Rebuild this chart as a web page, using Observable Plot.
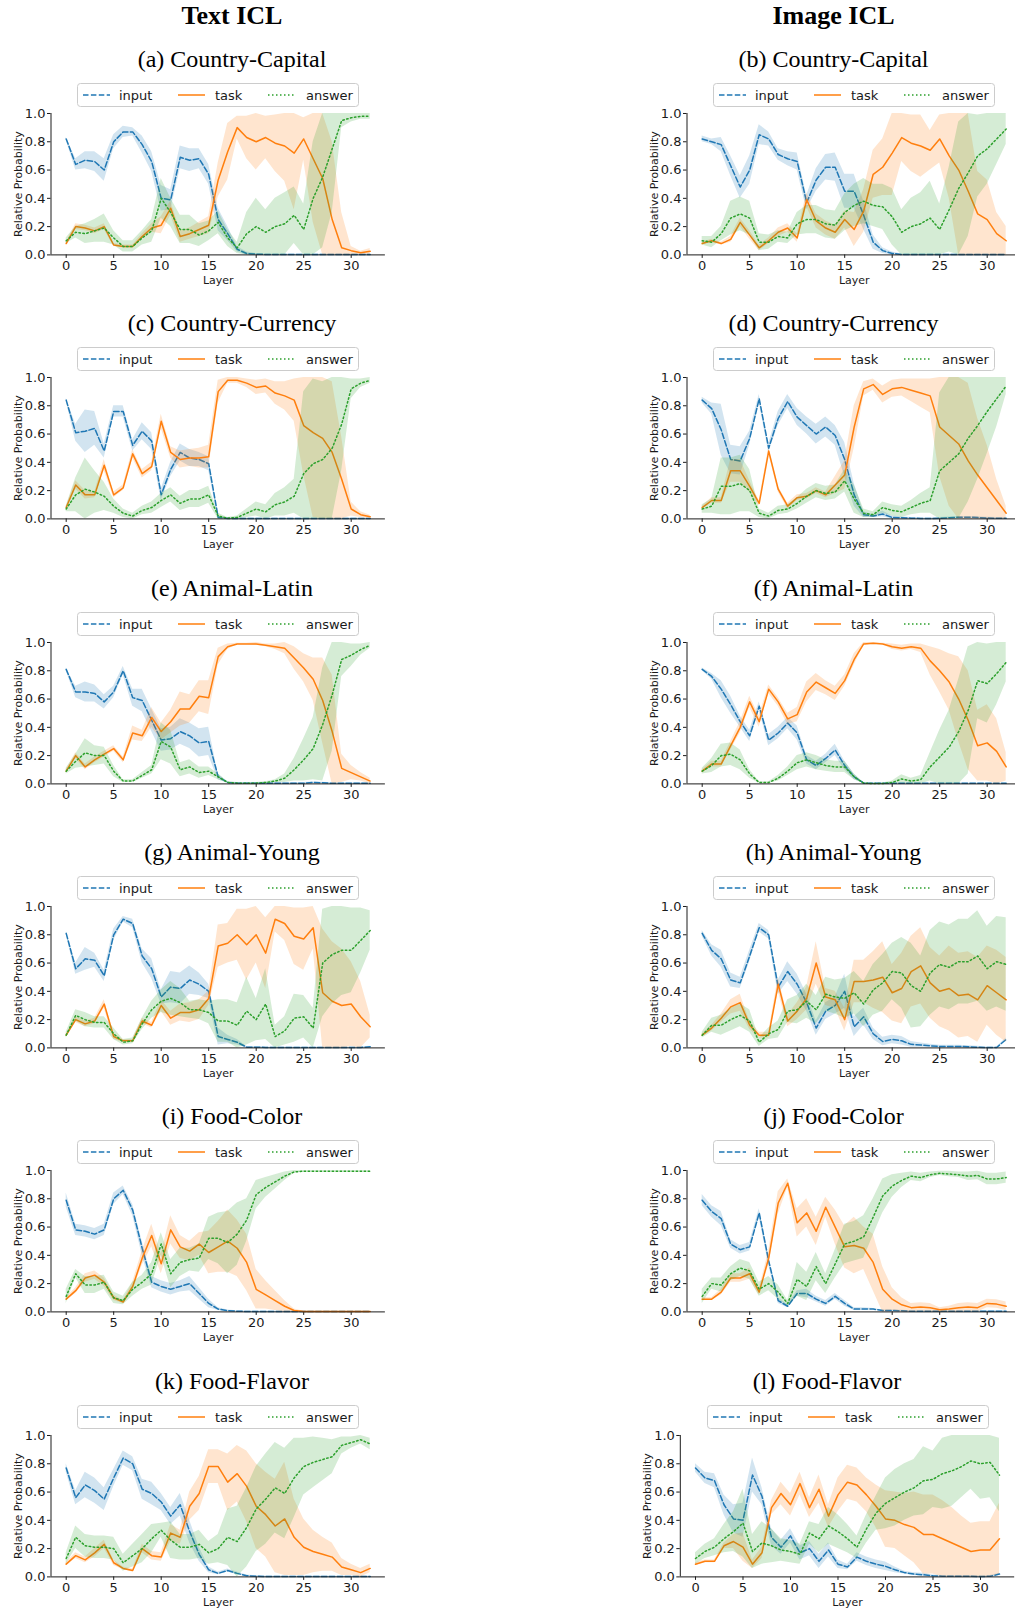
<!DOCTYPE html>
<html><head><meta charset="utf-8">
<script src="https://cdn.jsdelivr.net/npm/d3@7"></script>
<script src="https://cdn.jsdelivr.net/npm/@observablehq/plot@0.6"></script>
<style>
body{margin:0;background:#fff;}
#root{position:relative;width:1015px;height:1608px;overflow:hidden;background:#fff;}
.abs{position:absolute;}
.coltitle{position:absolute;font-family:"Liberation Serif","Times New Roman",serif;font-weight:bold;font-size:26px;transform:translate(-50%,-50%);white-space:nowrap;color:#000;}
.ptitle{position:absolute;font-family:"Liberation Serif","Times New Roman",serif;font-size:24px;transform:translate(-50%,-50%);white-space:nowrap;color:#000;}
</style></head><body><div id="root"></div>
<script>
const layers = [0,1,2,3,4,5,6,7,8,9,10,11,12,13,14,15,16,17,18,19,20,21,22,23,24,25,26,27,28,29,30,31,32];
const xTicks = [0,5,10,15,20,25,30];
const yTicks = [0,0.2,0.4,0.6,0.8,1.0];
const seriesNames = ["input","task","answer"];
const columnTitles = ["Text ICL","Image ICL"];
const panelTitles = ["(a) Country-Capital","(b) Country-Capital","(c) Country-Currency","(d) Country-Currency","(e) Animal-Latin","(f) Animal-Latin","(g) Animal-Young","(h) Animal-Young","(i) Food-Color","(j) Food-Color","(k) Food-Flavor","(l) Food-Flavor"];

// (a) Text Country-Capital
const a_in = [0.82,0.64,0.67,0.66,0.60,0.80,0.87,0.87,0.78,0.66,0.40,
  0.39,0.69,0.67,0.68,0.57,0.25,0.15,0.04,0.01,0.005,0.003,
  0.003,0.003,0.003,0.003,0.003,0.003,0.003,0.003,0.003,0.003,0.003];
const a_in_sd = [0.01,0.04,0.06,0.07,0.08,0.05,0.04,0.03,0.06,0.07,0.09,
  0.07,0.08,0.08,0.07,0.07,0.08,0.05,0.02,0.01,0.004,0.003,
  0.003,0.003,0.003,0.003,0.003,0.003,0.003,0.003,0.003,0.003,0.003];
const a_task = [0.08,0.20,0.19,0.17,0.20,0.07,0.06,0.06,0.13,0.19,0.21,
  0.33,0.13,0.15,0.18,0.21,0.53,0.73,0.90,0.83,0.80,0.83,
  0.79,0.77,0.72,0.82,0.68,0.54,0.25,0.05,0.03,0.015,0.025];
const a_task_sd = [0.01,0.02,0.02,0.02,0.02,0.01,0.01,0.01,0.02,0.03,0.06,
  0.05,0.04,0.04,0.05,0.06,0.12,0.20,0.08,0.15,0.20,0.15,
  0.20,0.25,0.40,0.15,0.45,0.55,0.55,0.25,0.03,0.01,0.02];
const a_ans = [0.10,0.16,0.15,0.17,0.19,0.12,0.06,0.06,0.12,0.17,0.40,
  0.30,0.18,0.18,0.14,0.17,0.23,0.12,0.05,0.15,0.20,0.16,
  0.20,0.22,0.28,0.18,0.40,0.55,0.75,0.95,0.97,0.98,0.98];
const a_ans_sd = [0.02,0.04,0.07,0.08,0.10,0.05,0.04,0.04,0.05,0.08,0.14,
  0.10,0.10,0.10,0.08,0.07,0.08,0.06,0.04,0.15,0.20,0.16,
  0.20,0.22,0.20,0.18,0.40,0.50,0.45,0.05,0.03,0.02,0.02];

// (b) Image Country-Capital
const b_in = [0.82,0.80,0.78,0.63,0.48,0.60,0.85,0.82,0.71,0.68,0.66,
  0.37,0.53,0.62,0.62,0.45,0.45,0.28,0.09,0.03,0.01,0.003,
  0.003,0.003,0.003,0.003,0.003,0.003,0.003,0.003,0.003,0.003,0.003];
const b_in_sd = [0.02,0.02,0.05,0.07,0.08,0.10,0.07,0.05,0.04,0.05,0.06,
  0.05,0.08,0.09,0.10,0.12,0.12,0.10,0.05,0.02,0.01,0.003,
  0.003,0.003,0.003,0.003,0.003,0.003,0.003,0.003,0.003,0.003,0.003];
const b_task = [0.08,0.10,0.08,0.11,0.23,0.14,0.05,0.10,0.16,0.19,0.12,
  0.39,0.24,0.19,0.16,0.25,0.18,0.31,0.57,0.62,0.72,0.83,
  0.79,0.77,0.74,0.82,0.70,0.60,0.45,0.29,0.25,0.15,0.10];
const b_task_sd = [0.01,0.01,0.01,0.02,0.03,0.03,0.02,0.02,0.03,0.03,0.03,
  0.05,0.05,0.05,0.05,0.06,0.12,0.15,0.17,0.20,0.30,0.17,
  0.20,0.22,0.14,0.17,0.30,0.60,0.60,0.30,0.28,0.15,0.10];
const b_ans = [0.10,0.09,0.15,0.26,0.29,0.26,0.09,0.09,0.13,0.12,0.22,
  0.25,0.25,0.22,0.21,0.30,0.35,0.38,0.35,0.34,0.27,0.16,
  0.20,0.22,0.26,0.18,0.32,0.47,0.58,0.70,0.75,0.82,0.89];
const b_ans_sd = [0.03,0.04,0.05,0.12,0.12,0.12,0.06,0.05,0.04,0.04,0.08,
  0.10,0.10,0.10,0.10,0.13,0.15,0.16,0.15,0.16,0.20,0.16,
  0.20,0.22,0.26,0.18,0.30,0.47,0.45,0.29,0.25,0.18,0.11];

// (c) Text Country-Currency
const c_in = [0.84,0.61,0.62,0.64,0.48,0.76,0.76,0.52,0.62,0.55,0.17,
  0.35,0.47,0.43,0.42,0.39,0.01,0.003,0.003,0.003,0.003,0.003,
  0.003,0.003,0.003,0.003,0.003,0.003,0.003,0.003,0.003,0.003,0.003];
const c_in_sd = [0.01,0.06,0.15,0.12,0.05,0.04,0.04,0.04,0.06,0.06,0.04,
  0.05,0.06,0.06,0.05,0.05,0.01,0.003,0.003,0.003,0.003,0.003,
  0.003,0.003,0.003,0.003,0.003,0.003,0.003,0.003,0.003,0.003,0.003];
const c_task = [0.08,0.24,0.17,0.17,0.38,0.17,0.22,0.46,0.32,0.37,0.69,
  0.47,0.42,0.43,0.43,0.44,0.90,0.98,0.98,0.96,0.93,0.94,
  0.89,0.87,0.84,0.66,0.61,0.57,0.47,0.28,0.07,0.03,0.015];
const c_task_sd = [0.01,0.03,0.03,0.02,0.04,0.02,0.02,0.03,0.03,0.03,0.05,
  0.04,0.06,0.06,0.07,0.08,0.08,0.02,0.02,0.03,0.05,0.05,
  0.08,0.10,0.15,0.35,0.60,0.60,0.50,0.30,0.05,0.02,0.01];
const c_ans = [0.07,0.17,0.21,0.19,0.16,0.09,0.04,0.02,0.06,0.08,0.13,
  0.17,0.11,0.14,0.14,0.17,0.02,0.005,0.01,0.04,0.07,0.05,
  0.10,0.12,0.16,0.32,0.39,0.42,0.50,0.67,0.92,0.96,0.98];
const c_ans_sd = [0.02,0.12,0.22,0.15,0.10,0.05,0.03,0.02,0.03,0.04,0.05,
  0.05,0.05,0.06,0.06,0.06,0.02,0.005,0.01,0.03,0.05,0.05,
  0.08,0.10,0.12,0.58,0.60,0.55,0.50,0.33,0.07,0.03,0.02];

// (d) Image Country-Currency
const d_in = [0.84,0.78,0.63,0.42,0.41,0.57,0.85,0.50,0.71,0.83,0.72,
  0.66,0.60,0.65,0.59,0.42,0.17,0.03,0.02,0.035,0.01,0.008,
  0.005,0.003,0.003,0.005,0.008,0.012,0.012,0.01,0.006,0.004,0.004];
const d_in_sd = [0.02,0.04,0.18,0.10,0.10,0.05,0.03,0.03,0.05,0.05,0.06,
  0.06,0.07,0.07,0.07,0.12,0.08,0.02,0.01,0.02,0.01,0.005,
  0.005,0.005,0.005,0.005,0.005,0.005,0.005,0.005,0.005,0.005,0.005];
const d_task = [0.08,0.13,0.13,0.34,0.34,0.23,0.11,0.48,0.21,0.09,0.15,
  0.16,0.20,0.17,0.24,0.31,0.65,0.92,0.95,0.88,0.92,0.93,
  0.91,0.89,0.87,0.65,0.59,0.53,0.41,0.31,0.22,0.13,0.04];
const d_task_sd = [0.01,0.02,0.02,0.08,0.08,0.04,0.02,0.02,0.02,0.02,0.02,
  0.02,0.02,0.02,0.06,0.10,0.15,0.05,0.04,0.06,0.06,0.06,
  0.08,0.10,0.12,0.35,0.50,0.55,0.55,0.40,0.30,0.15,0.05];
const d_ans = [0.07,0.09,0.23,0.23,0.25,0.20,0.04,0.02,0.06,0.07,0.11,
  0.16,0.20,0.18,0.19,0.27,0.14,0.04,0.03,0.08,0.06,0.05,
  0.08,0.11,0.13,0.34,0.40,0.46,0.57,0.66,0.76,0.85,0.94];
const d_ans_sd = [0.03,0.05,0.20,0.20,0.20,0.15,0.03,0.02,0.03,0.03,0.04,
  0.05,0.05,0.05,0.05,0.08,0.10,0.03,0.02,0.04,0.04,0.04,
  0.05,0.07,0.09,0.55,0.60,0.55,0.45,0.38,0.30,0.20,0.06];

// (e) Text Animal-Latin
const e_in = [0.81,0.65,0.65,0.64,0.58,0.65,0.80,0.61,0.59,0.45,0.31,
  0.32,0.37,0.34,0.29,0.30,0.05,0.01,0.005,0.005,0.005,0.005,
  0.005,0.005,0.005,0.005,0.01,0.008,0.004,0.004,0.004,0.004,0.004];
const e_in_sd = [0.01,0.04,0.07,0.06,0.05,0.04,0.03,0.06,0.08,0.08,0.08,
  0.08,0.09,0.09,0.10,0.10,0.02,0.005,0.004,0.004,0.004,0.004,
  0.004,0.004,0.004,0.004,0.004,0.004,0.004,0.004,0.004,0.004,0.004];
const e_task = [0.09,0.20,0.12,0.17,0.21,0.25,0.17,0.36,0.34,0.47,0.37,
  0.44,0.53,0.53,0.62,0.61,0.90,0.97,0.99,0.99,0.99,0.98,
  0.97,0.96,0.89,0.82,0.74,0.59,0.37,0.11,0.08,0.05,0.02];
const e_task_sd = [0.01,0.02,0.02,0.02,0.02,0.02,0.02,0.05,0.04,0.07,0.06,
  0.08,0.12,0.10,0.11,0.12,0.06,0.02,0.005,0.005,0.01,0.01,
  0.02,0.04,0.08,0.10,0.15,0.30,0.40,0.10,0.05,0.03,0.02];
const e_ans = [0.09,0.16,0.22,0.20,0.20,0.09,0.02,0.02,0.06,0.10,0.30,
  0.26,0.10,0.12,0.08,0.09,0.05,0.01,0.005,0.005,0.005,0.01,
  0.02,0.04,0.10,0.17,0.25,0.42,0.63,0.88,0.91,0.95,0.98];
const e_ans_sd = [0.02,0.05,0.10,0.07,0.06,0.04,0.01,0.01,0.02,0.03,0.13,
  0.12,0.05,0.05,0.04,0.03,0.02,0.005,0.003,0.003,0.004,0.006,
  0.01,0.03,0.08,0.15,0.22,0.40,0.40,0.12,0.08,0.04,0.02];

// (f) Image Animal-Latin
const f_in = [0.81,0.76,0.67,0.56,0.44,0.34,0.55,0.31,0.36,0.43,0.36,
  0.17,0.13,0.18,0.24,0.13,0.05,0.005,0.004,0.004,0.004,0.004,
  0.004,0.004,0.004,0.004,0.004,0.004,0.004,0.004,0.004,0.004,0.004];
const f_in_sd = [0.01,0.02,0.06,0.06,0.04,0.04,0.03,0.04,0.04,0.04,0.05,
  0.03,0.03,0.03,0.04,0.03,0.02,0.003,0.003,0.003,0.003,0.003,
  0.003,0.003,0.003,0.003,0.003,0.003,0.003,0.003,0.003,0.003,0.003];
const f_task = [0.09,0.14,0.14,0.27,0.40,0.58,0.44,0.67,0.58,0.46,0.49,
  0.65,0.72,0.68,0.64,0.73,0.88,0.99,0.995,0.99,0.97,0.96,
  0.97,0.96,0.87,0.80,0.72,0.60,0.45,0.27,0.29,0.23,0.12];
const f_task_sd = [0.01,0.02,0.02,0.03,0.04,0.04,0.04,0.03,0.03,0.04,0.05,
  0.07,0.06,0.05,0.05,0.04,0.04,0.01,0.005,0.005,0.02,0.02,
  0.02,0.03,0.10,0.15,0.20,0.30,0.35,0.25,0.27,0.23,0.10];
const f_ans = [0.09,0.13,0.20,0.21,0.17,0.07,0.01,0.01,0.04,0.09,0.15,
  0.17,0.15,0.13,0.12,0.12,0.05,0.005,0.002,0.003,0.01,0.035,
  0.02,0.03,0.12,0.19,0.26,0.37,0.52,0.73,0.71,0.78,0.86];
const f_ans_sd = [0.02,0.05,0.08,0.08,0.07,0.03,0.005,0.005,0.02,0.03,0.05,
  0.05,0.05,0.04,0.04,0.04,0.02,0.003,0.002,0.003,0.01,0.03,
  0.02,0.03,0.10,0.19,0.26,0.37,0.45,0.27,0.28,0.22,0.14];

// (g) Text Animal-Young
const g_in = [0.81,0.56,0.63,0.62,0.51,0.80,0.91,0.88,0.65,0.56,0.36,
  0.43,0.42,0.48,0.45,0.40,0.08,0.06,0.04,0.005,0.005,0.003,
  0.003,0.003,0.003,0.003,0.003,0.003,0.003,0.003,0.003,0.003,0.008];
const g_in_sd = [0.01,0.04,0.08,0.05,0.04,0.04,0.02,0.03,0.05,0.07,0.05,
  0.11,0.11,0.10,0.08,0.05,0.06,0.03,0.02,0.005,0.004,0.003,
  0.003,0.003,0.003,0.003,0.003,0.003,0.003,0.003,0.003,0.003,0.003];
const g_task = [0.09,0.20,0.17,0.19,0.31,0.08,0.05,0.05,0.19,0.16,0.30,
  0.21,0.25,0.25,0.27,0.35,0.72,0.74,0.80,0.73,0.80,0.67,
  0.91,0.88,0.79,0.77,0.85,0.39,0.33,0.30,0.31,0.22,0.15];
const g_task_sd = [0.01,0.02,0.02,0.02,0.03,0.02,0.01,0.01,0.02,0.02,0.04,
  0.05,0.06,0.07,0.07,0.05,0.15,0.14,0.18,0.25,0.20,0.25,
  0.09,0.12,0.20,0.22,0.15,0.45,0.42,0.40,0.30,0.25,0.08];
const g_ans = [0.09,0.23,0.20,0.18,0.18,0.10,0.04,0.05,0.17,0.27,0.33,
  0.35,0.32,0.27,0.27,0.25,0.19,0.19,0.16,0.26,0.20,0.31,
  0.08,0.12,0.21,0.22,0.14,0.60,0.66,0.69,0.69,0.76,0.83];
const g_ans_sd = [0.02,0.04,0.05,0.04,0.04,0.04,0.02,0.02,0.04,0.06,0.08,
  0.12,0.10,0.06,0.07,0.08,0.15,0.15,0.16,0.24,0.15,0.25,
  0.08,0.10,0.17,0.15,0.14,0.38,0.35,0.32,0.30,0.23,0.14];

// (h) Image Animal-Young
const h_in = [0.81,0.69,0.63,0.48,0.46,0.65,0.85,0.80,0.43,0.54,0.45,
  0.32,0.14,0.26,0.30,0.40,0.15,0.22,0.10,0.045,0.06,0.05,
  0.025,0.02,0.015,0.01,0.01,0.01,0.008,0.005,0.003,0.003,0.06];
const h_in_sd = [0.02,0.04,0.06,0.05,0.04,0.04,0.03,0.03,0.05,0.07,0.07,
  0.06,0.05,0.06,0.06,0.12,0.07,0.06,0.04,0.03,0.03,0.03,
  0.02,0.015,0.01,0.008,0.008,0.008,0.008,0.006,0.004,0.004,0.01];
const h_task = [0.09,0.14,0.21,0.29,0.32,0.16,0.09,0.09,0.45,0.19,0.26,
  0.35,0.60,0.36,0.34,0.20,0.47,0.47,0.48,0.50,0.39,0.42,
  0.54,0.58,0.46,0.40,0.42,0.37,0.38,0.34,0.44,0.39,0.34];
const h_task_sd = [0.01,0.02,0.03,0.05,0.06,0.03,0.02,0.02,0.05,0.04,0.06,
  0.08,0.15,0.06,0.06,0.08,0.15,0.15,0.20,0.25,0.20,0.25,
  0.25,0.27,0.25,0.25,0.30,0.30,0.30,0.30,0.28,0.30,0.30];
const h_ans = [0.09,0.16,0.16,0.20,0.23,0.19,0.04,0.10,0.13,0.26,0.27,
  0.33,0.27,0.38,0.36,0.35,0.39,0.31,0.41,0.46,0.54,0.53,
  0.44,0.40,0.53,0.59,0.57,0.61,0.61,0.65,0.56,0.61,0.59];
const h_ans_sd = [0.02,0.05,0.07,0.08,0.08,0.08,0.03,0.04,0.06,0.08,0.10,
  0.12,0.10,0.12,0.12,0.14,0.15,0.16,0.18,0.20,0.20,0.25,
  0.30,0.25,0.30,0.30,0.30,0.30,0.30,0.32,0.30,0.32,0.33];

// (i) Text Food-Color
const i_in = [0.79,0.58,0.57,0.55,0.58,0.80,0.86,0.72,0.45,0.21,0.18,
  0.16,0.18,0.20,0.13,0.06,0.02,0.008,0.005,0.003,0.003,0.003,
  0.003,0.003,0.003,0.003,0.003,0.003,0.003,0.003,0.003,0.003,0.003];
const i_in_sd = [0.05,0.04,0.04,0.04,0.04,0.04,0.03,0.04,0.05,0.04,0.04,
  0.04,0.04,0.05,0.04,0.03,0.01,0.005,0.003,0.003,0.003,0.003,
  0.003,0.003,0.003,0.003,0.003,0.003,0.003,0.003,0.003,0.003,0.003];
const i_task = [0.09,0.15,0.24,0.26,0.21,0.10,0.07,0.18,0.38,0.54,0.34,
  0.58,0.46,0.43,0.48,0.42,0.46,0.50,0.45,0.35,0.16,0.12,
  0.08,0.04,0.01,0.003,0.002,0.002,0.002,0.002,0.002,0.002,0.002];
const i_task_sd = [0.01,0.02,0.03,0.03,0.03,0.02,0.01,0.03,0.05,0.08,0.07,
  0.10,0.08,0.07,0.08,0.15,0.18,0.22,0.20,0.20,0.14,0.10,
  0.07,0.04,0.01,0.002,0.002,0.002,0.002,0.002,0.002,0.002,0.002];
const i_ans = [0.11,0.27,0.19,0.19,0.21,0.10,0.08,0.16,0.21,0.27,0.48,
  0.27,0.35,0.37,0.38,0.52,0.52,0.49,0.55,0.65,0.83,0.88,
  0.92,0.96,0.99,0.995,0.995,0.995,0.995,0.995,0.995,0.995,0.995];
const i_ans_sd = [0.05,0.03,0.06,0.06,0.05,0.04,0.03,0.05,0.05,0.08,0.08,
  0.10,0.10,0.08,0.10,0.15,0.18,0.22,0.22,0.15,0.10,0.07,
  0.05,0.03,0.01,0.003,0.003,0.003,0.003,0.003,0.003,0.003,0.003];

// (j) Image Food-Color
const j_in = [0.79,0.71,0.66,0.48,0.44,0.46,0.70,0.36,0.08,0.04,0.13,
  0.13,0.09,0.06,0.11,0.06,0.02,0.02,0.02,0.01,0.01,0.008,
  0.004,0.004,0.004,0.004,0.004,0.004,0.004,0.004,0.004,0.004,0.004];
const j_in_sd = [0.04,0.04,0.05,0.03,0.03,0.03,0.03,0.03,0.02,0.01,0.02,
  0.03,0.02,0.02,0.02,0.02,0.01,0.01,0.004,0.004,0.004,0.004,
  0.004,0.004,0.004,0.004,0.004,0.004,0.004,0.004,0.004,0.004,0.004];
const j_task = [0.09,0.09,0.14,0.24,0.24,0.27,0.14,0.38,0.77,0.91,0.63,
  0.70,0.57,0.74,0.60,0.46,0.47,0.45,0.35,0.16,0.09,0.05,
  0.03,0.035,0.03,0.015,0.02,0.03,0.035,0.03,0.06,0.055,0.04];
const j_task_sd = [0.01,0.01,0.02,0.03,0.03,0.04,0.02,0.05,0.08,0.03,0.10,
  0.10,0.10,0.07,0.12,0.15,0.20,0.15,0.20,0.16,0.08,0.05,
  0.03,0.03,0.03,0.015,0.02,0.03,0.03,0.03,0.03,0.03,0.03];
const j_ans = [0.11,0.20,0.19,0.27,0.31,0.29,0.16,0.20,0.14,0.06,0.23,
  0.18,0.32,0.20,0.34,0.48,0.50,0.53,0.67,0.82,0.89,0.93,
  0.96,0.95,0.97,0.98,0.975,0.97,0.96,0.965,0.94,0.94,0.95];
const j_ans_sd = [0.05,0.04,0.05,0.05,0.06,0.06,0.05,0.05,0.05,0.02,0.12,
  0.10,0.10,0.07,0.10,0.14,0.14,0.15,0.13,0.12,0.08,0.05,
  0.03,0.03,0.02,0.015,0.02,0.02,0.03,0.03,0.04,0.04,0.04];

// (k) Text Food-Flavor
const k_in = [0.77,0.56,0.65,0.61,0.55,0.70,0.84,0.80,0.62,0.59,0.53,
  0.43,0.51,0.32,0.16,0.05,0.025,0.045,0.025,0.008,0.005,0.003,
  0.003,0.003,0.003,0.003,0.003,0.003,0.003,0.003,0.003,0.003,0.003];
const k_in_sd = [0.03,0.05,0.09,0.09,0.08,0.06,0.05,0.05,0.07,0.08,0.06,
  0.06,0.08,0.08,0.05,0.02,0.01,0.01,0.01,0.005,0.003,0.003,
  0.003,0.003,0.003,0.003,0.003,0.003,0.003,0.003,0.003,0.003,0.003];
const k_task = [0.09,0.15,0.12,0.17,0.23,0.10,0.06,0.045,0.20,0.15,0.14,
  0.31,0.28,0.50,0.59,0.78,0.78,0.67,0.73,0.64,0.50,0.44,
  0.36,0.41,0.28,0.21,0.18,0.16,0.14,0.07,0.05,0.03,0.06];
const k_task_sd = [0.01,0.02,0.02,0.03,0.03,0.02,0.01,0.01,0.03,0.03,0.03,
  0.06,0.05,0.10,0.12,0.12,0.12,0.20,0.20,0.25,0.30,0.30,
  0.33,0.40,0.27,0.20,0.15,0.12,0.10,0.06,0.04,0.03,0.03];
const k_ans = [0.13,0.28,0.22,0.21,0.21,0.20,0.10,0.15,0.20,0.27,0.33,
  0.26,0.21,0.21,0.23,0.17,0.20,0.28,0.25,0.35,0.48,0.55,
  0.63,0.59,0.70,0.78,0.81,0.83,0.85,0.93,0.95,0.97,0.94];
const k_ans_sd = [0.04,0.08,0.08,0.08,0.08,0.08,0.06,0.08,0.10,0.10,0.05,
  0.13,0.09,0.09,0.10,0.08,0.10,0.20,0.25,0.28,0.30,0.32,
  0.32,0.32,0.28,0.20,0.18,0.15,0.12,0.06,0.04,0.03,0.04];

// (l) Image Food-Flavor
const l_in = [0.77,0.70,0.68,0.51,0.41,0.40,0.72,0.57,0.28,0.21,0.29,
  0.17,0.20,0.11,0.19,0.09,0.07,0.14,0.11,0.09,0.075,0.05,
  0.03,0.02,0.015,0.008,0.005,0.004,0.004,0.004,0.003,0.004,0.02];
const l_in_sd = [0.03,0.04,0.05,0.07,0.10,0.12,0.12,0.06,0.06,0.05,0.05,
  0.05,0.05,0.05,0.05,0.03,0.02,0.03,0.03,0.03,0.03,0.02,
  0.01,0.01,0.01,0.005,0.005,0.005,0.005,0.005,0.005,0.005,0.005];
const l_task = [0.09,0.11,0.11,0.22,0.25,0.21,0.09,0.17,0.49,0.59,0.51,
  0.66,0.49,0.62,0.43,0.58,0.67,0.65,0.58,0.50,0.41,0.40,
  0.37,0.35,0.30,0.30,0.27,0.24,0.21,0.18,0.19,0.19,0.27];
const l_task_sd = [0.01,0.01,0.01,0.02,0.05,0.10,0.03,0.04,0.05,0.08,0.08,
  0.08,0.07,0.10,0.08,0.12,0.12,0.12,0.12,0.15,0.20,0.20,
  0.22,0.25,0.28,0.28,0.27,0.25,0.22,0.20,0.20,0.20,0.25];
const l_ans = [0.13,0.18,0.21,0.27,0.32,0.38,0.18,0.24,0.22,0.19,0.18,
  0.16,0.31,0.27,0.36,0.32,0.27,0.21,0.34,0.45,0.52,0.56,
  0.60,0.63,0.68,0.69,0.73,0.75,0.78,0.82,0.80,0.81,0.72];
const l_ans_sd = [0.04,0.05,0.06,0.10,0.14,0.24,0.12,0.15,0.12,0.08,0.08,
  0.07,0.08,0.10,0.13,0.12,0.10,0.08,0.10,0.12,0.18,0.20,
  0.20,0.20,0.24,0.20,0.25,0.25,0.22,0.20,0.25,0.25,0.26];

// ---- assembly ----
const panelSeries = [
  [a_in,a_in_sd,a_task,a_task_sd,a_ans,a_ans_sd],
  [b_in,b_in_sd,b_task,b_task_sd,b_ans,b_ans_sd],
  [c_in,c_in_sd,c_task,c_task_sd,c_ans,c_ans_sd],
  [d_in,d_in_sd,d_task,d_task_sd,d_ans,d_ans_sd],
  [e_in,e_in_sd,e_task,e_task_sd,e_ans,e_ans_sd],
  [f_in,f_in_sd,f_task,f_task_sd,f_ans,f_ans_sd],
  [g_in,g_in_sd,g_task,g_task_sd,g_ans,g_ans_sd],
  [h_in,h_in_sd,h_task,h_task_sd,h_ans,h_ans_sd],
  [i_in,i_in_sd,i_task,i_task_sd,i_ans,i_ans_sd],
  [j_in,j_in_sd,j_task,j_task_sd,j_ans,j_ans_sd],
  [k_in,k_in_sd,k_task,k_task_sd,k_ans,k_ans_sd],
  [l_in,l_in_sd,l_task,l_task_sd,l_ans,l_ans_sd]
];

const colors = ["#1f77b4","#ff7f0e","#2ca02c"];
const dashes = ["5.5,2.4", null, "1.5,2.5"];
const TEXT = "#1a1a1a";
const rowTops = [112.7, 377, 641.7, 905.7, 1170.3, 1434.7];
const AX_H = 141.4, AX_W = 334.4, MT = 8, MB = 42;
const X_DOMAIN = [-1.6, 33.6];
// column layouts: [svgLeft, marginLeft, titleCenter]
const colLayout = [[0, 50.5, 232], [625, 61.5, 833.5]];
const lastRightLayout = [625, 54.8, 827];

const root = document.getElementById("root");

columnTitles.forEach((t, c) => {
  const d = document.createElement("div");
  d.className = "coltitle";
  d.style.left = colLayout[c][2] + "px";
  d.style.top = "15.5px";
  d.textContent = t;
  root.appendChild(d);
});

function clip(v) { return Math.max(0, Math.min(1, v)); }

panelSeries.forEach((ser, p) => {
  const col = p % 2, row = Math.floor(p / 2);
  const lay = (p === 11) ? lastRightLayout : colLayout[col];
  const [svgLeft, ml, titleX] = lay;
  const top = rowTops[row];
  const axLeft = svgLeft + ml;
  const axCenter = axLeft + AX_W / 2;

  // title
  const t = document.createElement("div");
  t.className = "ptitle";
  t.style.left = titleX + "px";
  t.style.top = (top - 54) + "px";
  t.textContent = panelTitles[p];
  root.appendChild(t);

  // legend
  const lgW = 281, lgH = 23;
  const lgLeft = axCenter - lgW / 2, lgTop = top - 30;
  const items = [[6, 42], [101, 138], [191, 229]];
  let svg = `<svg class="abs" style="left:${lgLeft}px;top:${lgTop}px;overflow:visible" width="${lgW+1}" height="${lgH+1}">`;
  svg += `<rect x="0.5" y="0.5" width="${lgW}" height="${lgH}" rx="3" fill="#fff" stroke="#cccccc" stroke-width="1"/>`;
  seriesNames.forEach((n, s) => {
    const [lx, tx] = items[s];
    svg += `<line x1="${lx}" x2="${lx+27}" y1="12" y2="12" stroke="${colors[s]}" stroke-width="1.5" ${dashes[s] ? `stroke-dasharray="${dashes[s]}"` : ""}/>`;
    svg += `<text x="${tx}" y="12" dy="0.36em" font-family="DejaVu Sans" font-size="13" fill="${TEXT}">${n}</text>`;
  });
  svg += `</svg>`;
  root.insertAdjacentHTML("beforeend", svg);

  const marks = [
    Plot.axisX({ticks: xTicks, tickSize: 3.5, tickPadding: 2, label: null, fontSize: 13, stroke: TEXT}),
    Plot.axisY({ticks: yTicks, tickFormat: d3.format(".1f"), tickSize: 3.5, tickPadding: 2, label: null, fontSize: 13, stroke: TEXT})
  ];
  for (let s = 0; s < 3; s++) {
    const mean = ser[2*s], sd = ser[2*s+1];
    const lo = mean.map((m, i) => clip(m - sd[i]));
    const hi = mean.map((m, i) => clip(m + sd[i]));
    marks.push(Plot.areaY(layers, {x: layers, y1: lo, y2: hi, fill: colors[s], fillOpacity: 0.2}));
    const lineOpts = {x: layers, y: mean, stroke: colors[s], strokeWidth: 1.5};
    if (dashes[s]) lineOpts.strokeDasharray = dashes[s];
    marks.push(Plot.lineY(layers, lineOpts));
  }
  marks.push(Plot.ruleY([0], {stroke: TEXT, strokeWidth: 1}));
  marks.push(Plot.ruleX([X_DOMAIN[0]], {stroke: TEXT, strokeWidth: 1}));
  marks.push(Plot.text(["Layer"], {frameAnchor: "bottom", dy: 26, lineAnchor: "middle", textAnchor: "middle", fontSize: 11, text: d => d, fill: TEXT}));
  marks.push(Plot.text(["Relative Probability"], {frameAnchor: "left", dx: -33, rotate: -90, textAnchor: "middle", lineAnchor: "middle", fontSize: 11, text: d => d, fill: TEXT}));

  const chart = Plot.plot({
    width: ml + AX_W + 10,
    height: MT + AX_H + MB,
    marginLeft: ml, marginRight: 10, marginTop: MT, marginBottom: MB,
    x: {domain: X_DOMAIN},
    y: {domain: [0, 1]},
    style: {fontFamily: "DejaVu Sans", fontSize: "13px", color: TEXT, background: "transparent", overflow: "visible"},
    marks
  });
  chart.style.position = "absolute";
  chart.style.left = svgLeft + "px";
  chart.style.top = (top - MT) + "px";
  root.appendChild(chart);
});
</script>
</body></html>
